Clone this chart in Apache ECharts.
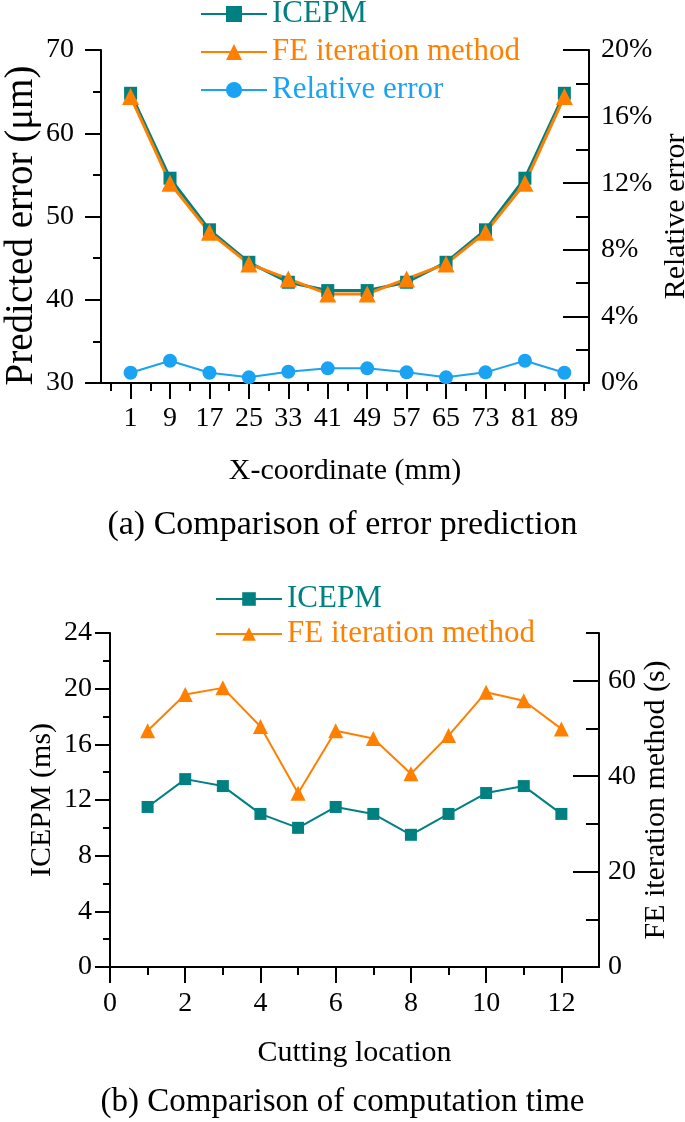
<!DOCTYPE html>
<html>
<head>
<meta charset="utf-8">
<script src="https://cdn.jsdelivr.net/npm/echarts@6/dist/echarts.min.js"></script>
<style>
html,body{margin:0;padding:0;background:#fff;}
#c{width:685px;height:1122px;}
</style>
</head>
<body>
<div id="c"></div>
<script>
// ---- data (a) ----
const xCoords = [1, 9, 17, 25, 33, 41, 49, 57, 65, 73, 81, 89];
const icepmError = [64.8, 54.6, 48.4, 44.5, 42.1, 41.1, 41.1, 42.1, 44.5, 48.4, 54.6, 64.8];
const feError = [64.4, 54.0, 48.1, 44.3, 42.5, 40.7, 40.7, 42.5, 44.3, 48.1, 54.0, 64.4];
const relativeError = [0.62, 1.34, 0.62, 0.34, 0.68, 0.88, 0.88, 0.64, 0.34, 0.64, 1.34, 0.62];
const xMinorTicksA = [-3, 5, 13, 21, 29, 37, 45, 53, 61, 69, 77, 85, 93];
// ---- data (b) ----
const cuttingLocation = [1, 2, 3, 4, 5, 6, 7, 8, 9, 10, 11, 12];
const icepmTime = [11.5, 13.5, 13.0, 11.0, 10.0, 11.5, 11.0, 9.5, 11.0, 12.5, 13.0, 11.0];
const feTime = [49.5, 57.1, 58.5, 50.4, 36.4, 49.5, 47.9, 40.5, 48.5, 57.6, 55.8, 49.9];
const xMajorTicksB = [0, 2, 4, 6, 8, 10, 12];
const xMinorTicksB = [1, 3, 5, 7, 9, 11];
const rightMajorB = [0, 20, 40, 60];
const rightMinorB = [10, 30, 50, 70];

const TEAL = '#008080';
const ORANGE = '#FF8000';
const BLUE = '#1AA3F2';
const FONT = 'Liberation Serif';

function pairs(xs, ys) { return xs.map((x, i) => [x, ys[i]]); }

const axisLine = { show: true, onZero: false, lineStyle: { color: '#000', width: 2 } };
const noLine = { show: false, onZero: false };
const labelBase = { color: '#000', fontFamily: FONT, fontSize: 28 };
const nameBase = { color: '#000', fontFamily: FONT, fontSize: 30 };
const tickStyle = { width: 2, color: '#000' };

const chart = echarts.init(document.getElementById('c'), null, { renderer: 'canvas' });
chart.setOption({
  animation: false,
  backgroundColor: '#fff',
  title: [
    { text: '(a) Comparison of error prediction', left: 'center', top: 503,
      textStyle: { fontFamily: FONT, fontSize: 34, fontWeight: 'normal', color: '#000' } },
    { text: '(b) Comparison of computation time', left: 'center', top: 1081,
      textStyle: { fontFamily: FONT, fontSize: 33, fontWeight: 'normal', color: '#000' } }
  ],
  legend: [
    { orient: 'vertical', left: 195, top: -7, itemWidth: 66, itemHeight: 20, itemGap: 6,
      textStyle: { fontFamily: FONT, fontSize: 31, lineHeight: 32 },
      data: [
        { name: 'ICEPM', textStyle: { color: TEAL } },
        { name: 'FE iteration method', textStyle: { color: ORANGE } },
        { name: 'Relative error', textStyle: { color: BLUE } }
      ] },
    { orient: 'vertical', left: 210, top: 578, itemWidth: 66, itemHeight: 17, itemGap: 3,
      formatter: n => n.replace(' (b)', ''),
      textStyle: { fontFamily: FONT, fontSize: 31, lineHeight: 32 },
      data: [
        { name: 'ICEPM (b)', textStyle: { color: TEAL } },
        { name: 'FE iteration method (b)', textStyle: { color: ORANGE } }
      ] }
  ],
  grid: [
    { left: 101, right: 96, top: 50, bottom: 739, containLabel: false, outerBoundsMode: 'none' },
    { left: 110, right: 86, top: 633, bottom: 155, containLabel: false, outerBoundsMode: 'none' }
  ],
  xAxis: [
    { gridIndex: 0, type: 'value', position: 'bottom', min: -5, max: 94,
      axisLine: axisLine, splitLine: { show: false },
      axisTick: { show: true, length: 16, lineStyle: tickStyle, customValues: xCoords },
      axisLabel: Object.assign({ margin: 22, customValues: xCoords }, labelBase),
      name: 'X-coordinate (mm)', nameLocation: 'middle', nameGap: 73, nameMoveOverlap: false, nameTextStyle: nameBase },
    { gridIndex: 0, type: 'value', position: 'bottom', offset: 0, min: -5, max: 94,
      axisLine: noLine, splitLine: { show: false },
      axisTick: { show: true, length: 8, lineStyle: tickStyle, customValues: xMinorTicksA },
      axisLabel: { show: false } },
    { gridIndex: 1, type: 'value', position: 'bottom', min: 0, max: 13,
      axisLine: axisLine, splitLine: { show: false },
      axisTick: { show: true, length: 16, lineStyle: tickStyle, customValues: xMajorTicksB },
      axisLabel: Object.assign({ margin: 23, customValues: xMajorTicksB }, labelBase),
      name: 'Cutting location', nameLocation: 'middle', nameGap: 71, nameMoveOverlap: false, nameTextStyle: nameBase },
    { gridIndex: 1, type: 'value', position: 'bottom', offset: 0, min: 0, max: 13,
      axisLine: noLine, splitLine: { show: false },
      axisTick: { show: true, length: 8, lineStyle: tickStyle, customValues: xMinorTicksB },
      axisLabel: { show: false } }
  ],
  yAxis: [
    { gridIndex: 0, type: 'value', position: 'left', min: 30, max: 70, interval: 10,
      axisLine: axisLine, splitLine: { show: false },
      axisTick: { show: true, length: 16, lineStyle: tickStyle },
      minorTick: { show: true, splitNumber: 2, length: 8, lineStyle: tickStyle },
      axisLabel: Object.assign({ margin: 27 }, labelBase),
      name: 'Predicted error (μm)', nameLocation: 'middle', nameRotate: 90, nameGap: 60, nameMoveOverlap: false,
      nameTextStyle: Object.assign({}, nameBase, { fontSize: 39, padding: [0, 18, 0, 0] }) },
    { gridIndex: 0, type: 'value', position: 'right', min: 0, max: 20, interval: 4,
      axisLine: axisLine, splitLine: { show: false },
      axisTick: { show: true, inside: true, length: 26, lineStyle: tickStyle },
      minorTick: { show: true, splitNumber: 2, length: 13, lineStyle: tickStyle },
      axisLabel: Object.assign({ margin: 12, formatter: '{value}%' }, labelBase),
      name: 'Relative error', nameLocation: 'middle', nameRotate: 90, nameGap: 72, nameMoveOverlap: false, nameTextStyle: nameBase },
    { gridIndex: 1, type: 'value', position: 'left', min: 0, max: 24, interval: 4,
      axisLine: axisLine, splitLine: { show: false },
      axisTick: { show: true, length: 15, lineStyle: tickStyle },
      minorTick: { show: true, splitNumber: 2, length: 7, lineStyle: tickStyle },
      axisLabel: Object.assign({ margin: 18 }, labelBase),
      name: 'ICEPM (ms)', nameLocation: 'middle', nameRotate: 90, nameGap: 53, nameMoveOverlap: false, nameTextStyle: nameBase },
    { gridIndex: 1, type: 'value', position: 'right', min: 0, max: 70,
      axisLine: axisLine, splitLine: { show: false },
      axisTick: { show: true, inside: true, length: 26, lineStyle: tickStyle, customValues: rightMajorB },
      axisLabel: Object.assign({ margin: 9, customValues: rightMajorB }, labelBase),
      name: 'FE iteration method (s)', nameLocation: 'middle', nameRotate: 90, nameGap: 42, nameMoveOverlap: false, nameTextStyle: nameBase },
    { gridIndex: 1, type: 'value', position: 'right', offset: 0, min: 0, max: 70,
      axisLine: noLine, splitLine: { show: false },
      axisTick: { show: true, inside: true, length: 13, lineStyle: tickStyle, customValues: rightMinorB },
      axisLabel: { show: false } }
  ],
  series: [
    { name: 'ICEPM', type: 'line', xAxisIndex: 0, yAxisIndex: 0, data: pairs(xCoords, icepmError),
      symbol: 'rect', symbolSize: 13, color: TEAL, lineStyle: { width: 3, color: TEAL }, itemStyle: { color: TEAL } },
    { name: 'FE iteration method', type: 'line', xAxisIndex: 0, yAxisIndex: 0, data: pairs(xCoords, feError),
      symbol: 'triangle', symbolSize: 17, color: ORANGE, lineStyle: { width: 3, color: ORANGE }, itemStyle: { color: ORANGE } },
    { name: 'Relative error', type: 'line', xAxisIndex: 0, yAxisIndex: 1, data: pairs(xCoords, relativeError),
      symbol: 'circle', symbolSize: 14, color: BLUE, lineStyle: { width: 2, color: BLUE }, itemStyle: { color: BLUE } },
    { name: 'ICEPM (b)', type: 'line', xAxisIndex: 2, yAxisIndex: 2, data: pairs(cuttingLocation, icepmTime),
      symbol: 'rect', symbolSize: 12, color: TEAL, lineStyle: { width: 2, color: TEAL }, itemStyle: { color: TEAL } },
    { name: 'FE iteration method (b)', type: 'line', xAxisIndex: 2, yAxisIndex: 3, data: pairs(cuttingLocation, feTime),
      symbol: 'triangle', symbolSize: 15, color: ORANGE, lineStyle: { width: 2, color: ORANGE }, itemStyle: { color: ORANGE } }
  ]
});
</script>
</body>
</html>
